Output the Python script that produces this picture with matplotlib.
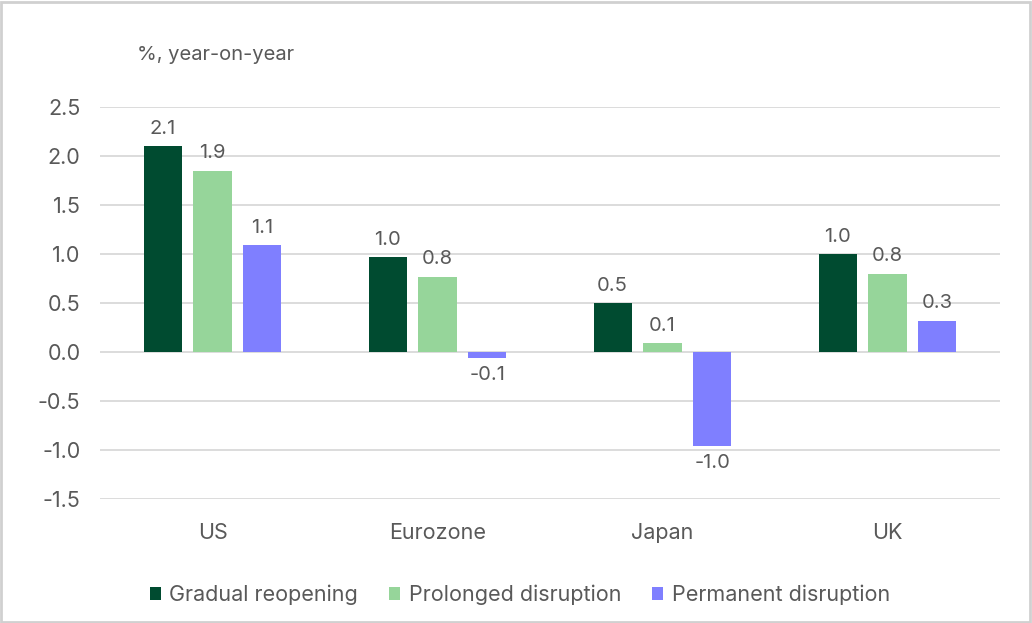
import numpy as np
import matplotlib.pyplot as plt
from matplotlib.patches import Rectangle

plt.rcParams["font.family"] = ["Inter", "DejaVu Sans"]

regions = ["US", "Eurozone", "Japan", "UK"]
scenarios = ["Gradual reopening", "Prolonged disruption", "Permanent disruption"]
gradual = [2.10, 0.97, 0.50, 1.00]
prolonged = [1.85, 0.77, 0.09, 0.80]
permanent = [1.09, -0.06, -0.96, 0.32]
gradual_labels = ["2.1", "1.0", "0.5", "1.0"]
prolonged_labels = ["1.9", "0.8", "0.1", "0.8"]
permanent_labels = ["1.1", "-0.1", "-1.0", "0.3"]
yticks = [-1.5, -1.0, -0.5, 0.0, 0.5, 1.0, 1.5, 2.0, 2.5]

colors = ["#004B30", "#96D59A", "#7F7FFF"]
text_color = "#595959"

fig = plt.figure(figsize=(10.32, 6.23), dpi=100)
ax = fig.add_axes([100 / 1032, 124 / 623, 900 / 1032, 392 / 623])

x = np.arange(len(regions))
width = 0.169
step = 0.222

series = [gradual, prolonged, permanent]
labels = [gradual_labels, prolonged_labels, permanent_labels]

for i, (vals, labs) in enumerate(zip(series, labels)):
    pos = x + (i - 1) * step
    bars = ax.bar(pos, vals, width, color=colors[i], label=scenarios[i], zorder=3)
    for b, v, lab in zip(bars, vals, labs):
        if v >= 0:
            ax.annotate(lab, (b.get_x() + b.get_width() / 2, v),
                        xytext=(0, 6), textcoords="offset points",
                        ha="center", va="bottom", fontsize=14.5, color=text_color)
        else:
            ax.annotate(lab, (b.get_x() + b.get_width() / 2, v),
                        xytext=(0, -6), textcoords="offset points",
                        ha="center", va="top", fontsize=14.5, color=text_color)

ax.set_xlim(-0.5, len(regions) - 0.5)
ax.set_ylim(-1.5, 2.5)
ax.set_yticks(yticks)
ax.set_yticklabels([f"{t:.1f}" for t in yticks])
ax.set_xticks(x)
ax.set_xticklabels(regions)
ax.tick_params(axis="both", length=0, labelsize=15.5, colors=text_color)
ax.tick_params(axis="y", pad=14)
ax.tick_params(axis="x", pad=17)
ax.grid(axis="y", color="#D9D9D9", linewidth=1.3, zorder=0)
for s in ax.spines.values():
    s.set_visible(False)

fig.text(137 / 1032, 1 - 55 / 623, "%, year-on-year", fontsize=14.5,
         color=text_color, ha="left", va="center")

leg = fig.legend(loc="center", bbox_to_anchor=(520 / 1032, 1 - 595 / 623),
                 ncol=3, frameon=False, fontsize=15.5, handlelength=0.5,
                 handleheight=0.5, handletextpad=0.4, columnspacing=1.45)
for t in leg.get_texts():
    t.set_color(text_color)

fig.patches.append(Rectangle((0.001, 0.002), 0.997, 0.995, transform=fig.transFigure,
                             fill=False, edgecolor="#D0D0D0", linewidth=2))

fig.savefig("out.png", dpi=100)
